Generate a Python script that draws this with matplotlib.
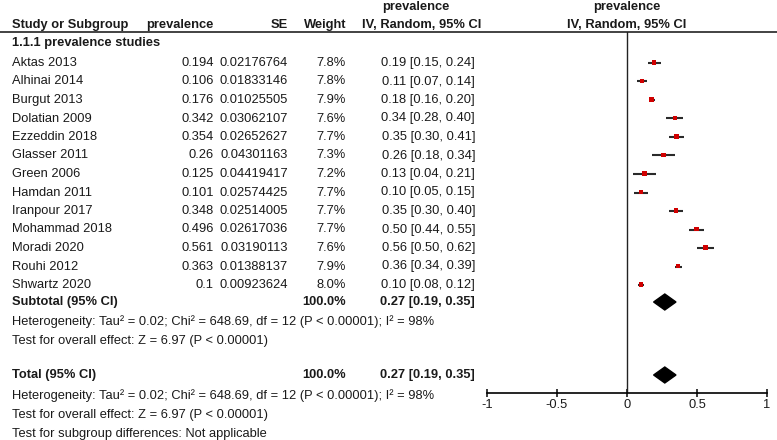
import matplotlib
matplotlib.use('Agg')
import matplotlib.pyplot as plt

plt.rcParams['font.family'] = ['Liberation Sans', 'DejaVu Sans']
plt.rcParams['font.size'] = 9.3

############## data ##############
studies = ['Aktas 2013', 'Alhinai 2014', 'Burgut 2013', 'Dolatian 2009', 'Ezzeddin 2018',
           'Glasser 2011', 'Green 2006', 'Hamdan 2011', 'Iranpour 2017', 'Mohammad 2018',
           'Moradi 2020', 'Rouhi 2012', 'Shwartz 2020']
prevalence = ['0.194', '0.106', '0.176', '0.342', '0.354', '0.26', '0.125', '0.101',
              '0.348', '0.496', '0.561', '0.363', '0.1']
se = ['0.02176764', '0.01833146', '0.01025505', '0.03062107', '0.02652627', '0.04301163',
      '0.04419417', '0.02574425', '0.02514005', '0.02617036', '0.03190113', '0.01388137',
      '0.00923624']
weight = [7.8, 7.8, 7.9, 7.6, 7.7, 7.3, 7.2, 7.7, 7.7, 7.7, 7.6, 7.9, 8.0]
est = [0.19, 0.11, 0.18, 0.34, 0.35, 0.26, 0.13, 0.10, 0.35, 0.50, 0.56, 0.36, 0.10]
lower = [0.15, 0.07, 0.16, 0.28, 0.30, 0.18, 0.04, 0.05, 0.30, 0.44, 0.50, 0.34, 0.08]
upper = [0.24, 0.14, 0.20, 0.40, 0.41, 0.34, 0.21, 0.15, 0.40, 0.55, 0.62, 0.39, 0.12]

pooled_est = 0.27
pooled_lower = 0.19
pooled_upper = 0.35
total_weight = '100.0%'

het_text = 'Heterogeneity: Tau\u00b2 = 0.02; Chi\u00b2 = 648.69, df = 12 (P < 0.00001); I\u00b2 = 98%'
effect_text = 'Test for overall effect: Z = 6.97 (P < 0.00001)'
subgroup_text = 'Test for subgroup differences: Not applicable'
ticks = [-1, -0.5, 0, 0.5, 1]
tick_labels = ['-1', '-0.5', '0', '0.5', '1']

############## layout (pixels) ##############
W, H = 777, 440
row0 = 63
dy = 18.5
rows = [row0 + i * dy for i in range(len(studies))]
y_sub = 302
y_total = 375
c_name, c_prev, c_se, c_w, c_ci = 12, 214, 288, 346, 475
txt = '#1a1a1a'

fig = plt.figure(figsize=(W / 100, H / 100), dpi=100)
tax = fig.add_axes([0, 0, 1, 1])
tax.set_xlim(0, W)
tax.set_ylim(H, 0)
tax.axis('off')

# header
tax.text(416, 7, 'prevalence', ha='center', va='center', fontweight='bold', color=txt)
tax.text(c_name, 25, 'Study or Subgroup', va='center', fontweight='bold', color=txt)
tax.text(c_prev, 25, 'prevalence', ha='right', va='center', fontweight='bold', color=txt)
tax.text(c_se, 25, 'SE', ha='right', va='center', fontweight='bold', color=txt)
tax.text(c_w, 25, 'Weight', ha='right', va='center', fontweight='bold', color=txt)
tax.text(481, 25, 'IV, Random, 95% CI', ha='right', va='center', fontweight='bold', color=txt)
tax.text(627, 7, 'prevalence', ha='center', va='center', fontweight='bold', color=txt)
tax.text(627, 25, 'IV, Random, 95% CI', ha='center', va='center', fontweight='bold', color=txt)
tax.plot([0, W], [32, 32], color='#222222', lw=1.2)

tax.text(c_name, 43, '1.1.1 prevalence studies', va='center', fontweight='bold', color=txt)

for i in range(len(studies)):
    y = rows[i]
    tax.text(c_name, y, studies[i], va='center', color=txt)
    tax.text(c_prev, y, prevalence[i], ha='right', va='center', color=txt)
    tax.text(c_se, y, se[i], ha='right', va='center', color=txt)
    tax.text(c_w, y, '%.1f%%' % weight[i], ha='right', va='center', color=txt)
    tax.text(c_ci, y, '%.2f [%.2f, %.2f]' % (est[i], lower[i], upper[i]),
             ha='right', va='center', color=txt)

pooled_str = '%.2f [%.2f, %.2f]' % (pooled_est, pooled_lower, pooled_upper)
tax.text(c_name, y_sub, 'Subtotal (95% CI)', va='center', fontweight='bold', color=txt)
tax.text(c_w, y_sub, total_weight, ha='right', va='center', fontweight='bold', color=txt)
tax.text(c_ci, y_sub, pooled_str, ha='right', va='center', fontweight='bold', color=txt)
tax.text(c_name, 322, het_text, va='center', color=txt)
tax.text(c_name, 341, effect_text, va='center', color=txt)

tax.text(c_name, y_total, 'Total (95% CI)', va='center', fontweight='bold', color=txt)
tax.text(c_w, y_total, total_weight, ha='right', va='center', fontweight='bold', color=txt)
tax.text(c_ci, y_total, pooled_str, ha='right', va='center', fontweight='bold', color=txt)
tax.text(c_name, 396, het_text, va='center', color=txt)
tax.text(c_name, 415, effect_text, va='center', color=txt)
tax.text(c_name, 434, subgroup_text, va='center', color=txt)

############## forest ##############
ax_top, ax_bot = 32, 393
fax = fig.add_axes([487 / W, (H - ax_bot) / H, 280 / W, (ax_bot - ax_top) / H])
fax.set_xlim(-1, 1)
fax.set_ylim(ax_bot, ax_top)
fax.patch.set_alpha(0)
for s in ['top', 'left', 'right']:
    fax.spines[s].set_visible(False)
fax.spines['bottom'].set_linewidth(1.2)
fax.set_yticks([])
fax.set_xticks(ticks)
fax.set_xticklabels(tick_labels)
fax.tick_params(axis='x', direction='inout', length=6, width=1.2, pad=1, colors=txt)
fax.axvline(0, color='#222222', lw=1.0)

fax.hlines(rows, lower, upper, color='#2a2a2a', lw=1.5, zorder=2)
fax.scatter([float(p) for p in prevalence], [r - 0.5 for r in rows], marker='s',
            s=[w * 1.3 for w in weight], color='#d00000', zorder=3, linewidths=0)

for y in [y_sub, y_total]:
    fax.fill([pooled_lower, pooled_est, pooled_upper, pooled_est], [y, y - 8, y, y + 8],
             color='black', zorder=3)

plt.savefig('out.png', dpi=100)
